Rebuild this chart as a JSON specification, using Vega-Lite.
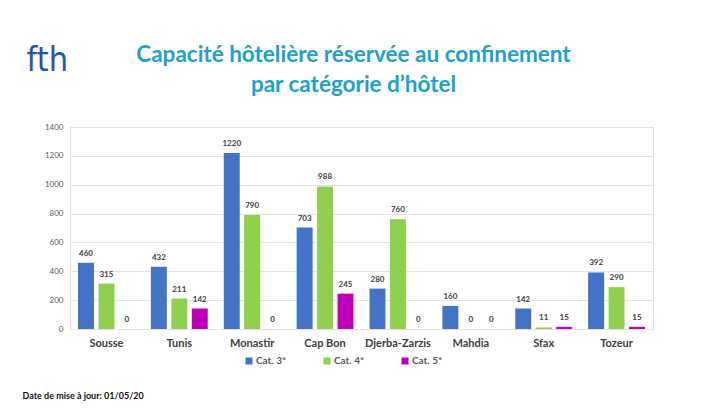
{
  "$schema": "https://vega.github.io/schema/vega-lite/v6.json",
  "autosize": "none",
  "width": 583,
  "height": 202,
  "padding": {"left": 70, "top": 127, "right": 67, "bottom": 84},
  "background": "white",
  "title": {
    "text": ["Capacité hôtelière réservée au confinement", "par catégorie d’hôtel"],
    "font": "Lato",
    "fontSize": 22.5,
    "fontWeight": "bold",
    "color": "#20a0cb",
    "anchor": "middle",
    "lineHeight": 30,
    "offset": -53,
    "dx": -8
  },
  "data": {
    "values": [
      {"region": "Sousse", "cat": "Cat. 3*", "value": 460},
      {"region": "Sousse", "cat": "Cat. 4*", "value": 315},
      {"region": "Sousse", "cat": "Cat. 5*", "value": 0},
      {"region": "Tunis", "cat": "Cat. 3*", "value": 432},
      {"region": "Tunis", "cat": "Cat. 4*", "value": 211},
      {"region": "Tunis", "cat": "Cat. 5*", "value": 142},
      {"region": "Monastir", "cat": "Cat. 3*", "value": 1220},
      {"region": "Monastir", "cat": "Cat. 4*", "value": 790},
      {"region": "Monastir", "cat": "Cat. 5*", "value": 0},
      {"region": "Cap Bon", "cat": "Cat. 3*", "value": 703},
      {"region": "Cap Bon", "cat": "Cat. 4*", "value": 988},
      {"region": "Cap Bon", "cat": "Cat. 5*", "value": 245},
      {"region": "Djerba-Zarzis", "cat": "Cat. 3*", "value": 280},
      {"region": "Djerba-Zarzis", "cat": "Cat. 4*", "value": 760},
      {"region": "Djerba-Zarzis", "cat": "Cat. 5*", "value": 0},
      {"region": "Mahdia", "cat": "Cat. 3*", "value": 160},
      {"region": "Mahdia", "cat": "Cat. 4*", "value": 0},
      {"region": "Mahdia", "cat": "Cat. 5*", "value": 0},
      {"region": "Sfax", "cat": "Cat. 3*", "value": 142},
      {"region": "Sfax", "cat": "Cat. 4*", "value": 11},
      {"region": "Sfax", "cat": "Cat. 5*", "value": 15},
      {"region": "Tozeur", "cat": "Cat. 3*", "value": 392},
      {"region": "Tozeur", "cat": "Cat. 4*", "value": 290},
      {"region": "Tozeur", "cat": "Cat. 5*", "value": 15}
    ]
  },
  "encoding": {
    "x": {
      "field": "region",
      "type": "nominal",
      "sort": null,
      "scale": {"paddingInner": 0.22, "paddingOuter": 0.11},
      "axis": {
        "title": "Date de mise à jour: 01/05/20",
        "titleFont": "Lato",
        "titleFontSize": 9,
        "titleFontWeight": "bold",
        "titleColor": "#111111",
        "titleAnchor": null,
        "titleAlign": "left",
        "titleBaseline": "alphabetic",
        "titleX": -48,
        "titleY": 69,
        "labelAngle": 0,
        "labelFont": "Lato",
        "labelFontSize": 11,
        "labelFontWeight": "bold",
        "labelColor": "#404040",
        "labelPadding": 8,
        "ticks": false,
        "domain": false
      }
    },
    "xOffset": {
      "field": "cat",
      "type": "nominal",
      "scale": {"paddingInner": 0.22, "paddingOuter": 0}
    },
    "y": {
      "field": "value",
      "type": "quantitative",
      "scale": {"domain": [0, 1400], "nice": false},
      "axis": {
        "values": [0, 200, 400, 600, 800, 1000, 1200, 1400],
        "format": "d",
        "title": "fth",
        "titleFont": "DejaVu Sans Condensed",
        "titleFontSize": 34,
        "titleFontWeight": "normal",
        "titleColor": "#1e5aa8",
        "titleAngle": 0,
        "titleAlign": "left",
        "titleBaseline": "alphabetic",
        "titleX": -44,
        "titleY": -57,
        "labelFont": "Lato",
        "labelFontSize": 8,
        "labelColor": "#595959",
        "labelPadding": 7,
        "ticks": false,
        "domain": false,
        "gridColor": "#e4e4e4",
        "gridWidth": 1
      }
    }
  },
  "layer": [
    {
      "mark": {"type": "bar"},
      "encoding": {
        "color": {
          "field": "cat",
          "type": "nominal",
          "scale": {"domain": ["Cat. 3*", "Cat. 4*", "Cat. 5*"], "range": ["#4472c4", "#8fd14f", "#c000b8"]},
          "legend": {
            "title": null,
            "orient": "none",
            "direction": "horizontal",
            "legendX": 174,
            "legendY": 229,
            "symbolType": "square",
            "symbolSize": 49,
            "symbolStrokeWidth": 0,
            "labelFont": "Lato",
            "labelFontSize": 10,
            "labelFontWeight": "bold",
            "labelColor": "#595959",
            "labelOffset": 2,
            "columnPadding": 35
          }
        }
      }
    },
    {
      "mark": {"type": "text", "dy": -5, "baseline": "bottom", "font": "Lato", "fontSize": 8, "fontWeight": "bold", "color": "#404040"},
      "encoding": {
        "text": {"field": "value", "type": "quantitative"}
      }
    }
  ]
}
